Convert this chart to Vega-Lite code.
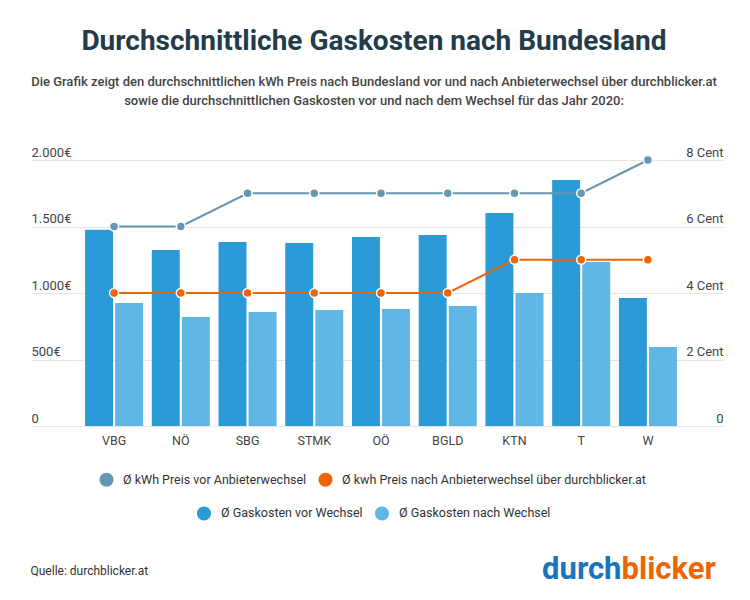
{
  "$schema": "https://vega.github.io/schema/vega-lite/v6.json",
  "width": 692,
  "height": 266,
  "autosize": {"type": "none"},
  "padding": {"left": 31, "top": 160, "right": 27, "bottom": 174},
  "background": "white",
  "config": {"font": "Roboto", "view": {"stroke": null}},
  "title": {
    "text": "Durchschnittliche Gaskosten nach Bundesland",
    "subtitle": [
      "Die Grafik zeigt den durchschnittlichen kWh Preis nach Bundesland vor und nach Anbieterwechsel über durchblicker.at",
      "sowie die durchschnittlichen Gaskosten vor und nach dem Wechsel für das Jahr 2020:"
    ],
    "anchor": "middle",
    "fontSize": 28,
    "fontWeight": "bold",
    "color": "#243b4a",
    "subtitleFontSize": 13,
    "subtitleFontWeight": 500,
    "subtitleColor": "#444444",
    "subtitleLineHeight": 19,
    "subtitlePadding": 20,
    "offset": 38,
    "dx": -3
  },
  "datasets": {
    "kosten": [
      {"Land": "VBG", "Serie": "Ø Gaskosten vor Wechsel", "Kosten": 1475},
      {"Land": "VBG", "Serie": "Ø Gaskosten nach Wechsel", "Kosten": 925},
      {"Land": "NÖ", "Serie": "Ø Gaskosten vor Wechsel", "Kosten": 1323},
      {"Land": "NÖ", "Serie": "Ø Gaskosten nach Wechsel", "Kosten": 820},
      {"Land": "SBG", "Serie": "Ø Gaskosten vor Wechsel", "Kosten": 1383},
      {"Land": "SBG", "Serie": "Ø Gaskosten nach Wechsel", "Kosten": 857},
      {"Land": "STMK", "Serie": "Ø Gaskosten vor Wechsel", "Kosten": 1376},
      {"Land": "STMK", "Serie": "Ø Gaskosten nach Wechsel", "Kosten": 872},
      {"Land": "OÖ", "Serie": "Ø Gaskosten vor Wechsel", "Kosten": 1421},
      {"Land": "OÖ", "Serie": "Ø Gaskosten nach Wechsel", "Kosten": 880},
      {"Land": "BGLD", "Serie": "Ø Gaskosten vor Wechsel", "Kosten": 1436},
      {"Land": "BGLD", "Serie": "Ø Gaskosten nach Wechsel", "Kosten": 902},
      {"Land": "KTN", "Serie": "Ø Gaskosten vor Wechsel", "Kosten": 1601},
      {"Land": "KTN", "Serie": "Ø Gaskosten nach Wechsel", "Kosten": 1000},
      {"Land": "T", "Serie": "Ø Gaskosten vor Wechsel", "Kosten": 1850},
      {"Land": "T", "Serie": "Ø Gaskosten nach Wechsel", "Kosten": 1233},
      {"Land": "W", "Serie": "Ø Gaskosten vor Wechsel", "Kosten": 962},
      {"Land": "W", "Serie": "Ø Gaskosten nach Wechsel", "Kosten": 594}
    ],
    "preis": [
      {"Land": "VBG", "Tarif": "Ø kWh Preis vor Anbieterwechsel", "Cent": 6},
      {"Land": "NÖ", "Tarif": "Ø kWh Preis vor Anbieterwechsel", "Cent": 6},
      {"Land": "SBG", "Tarif": "Ø kWh Preis vor Anbieterwechsel", "Cent": 7},
      {"Land": "STMK", "Tarif": "Ø kWh Preis vor Anbieterwechsel", "Cent": 7},
      {"Land": "OÖ", "Tarif": "Ø kWh Preis vor Anbieterwechsel", "Cent": 7},
      {"Land": "BGLD", "Tarif": "Ø kWh Preis vor Anbieterwechsel", "Cent": 7},
      {"Land": "KTN", "Tarif": "Ø kWh Preis vor Anbieterwechsel", "Cent": 7},
      {"Land": "T", "Tarif": "Ø kWh Preis vor Anbieterwechsel", "Cent": 7},
      {"Land": "W", "Tarif": "Ø kWh Preis vor Anbieterwechsel", "Cent": 8},
      {"Land": "VBG", "Tarif": "Ø kwh Preis nach Anbieterwechsel über durchblicker.at", "Cent": 4},
      {"Land": "NÖ", "Tarif": "Ø kwh Preis nach Anbieterwechsel über durchblicker.at", "Cent": 4},
      {"Land": "SBG", "Tarif": "Ø kwh Preis nach Anbieterwechsel über durchblicker.at", "Cent": 4},
      {"Land": "STMK", "Tarif": "Ø kwh Preis nach Anbieterwechsel über durchblicker.at", "Cent": 4},
      {"Land": "OÖ", "Tarif": "Ø kwh Preis nach Anbieterwechsel über durchblicker.at", "Cent": 4},
      {"Land": "BGLD", "Tarif": "Ø kwh Preis nach Anbieterwechsel über durchblicker.at", "Cent": 4},
      {"Land": "KTN", "Tarif": "Ø kwh Preis nach Anbieterwechsel über durchblicker.at", "Cent": 5},
      {"Land": "T", "Tarif": "Ø kwh Preis nach Anbieterwechsel über durchblicker.at", "Cent": 5},
      {"Land": "W", "Tarif": "Ø kwh Preis nach Anbieterwechsel über durchblicker.at", "Cent": 5}
    ]
  },
  "layer": [
    {
      "data": {"name": "kosten"},
      "mark": {"type": "bar"},
      "encoding": {
        "x": {
          "field": "Land",
          "type": "nominal",
          "scale": {
            "domain": ["VBG", "NÖ", "SBG", "STMK", "OÖ", "BGLD", "KTN", "T", "W"],
            "paddingInner": 0.13,
            "paddingOuter": 0.75,
            "align": 0.54
          },
          "axis": {
            "title": "Quelle: durchblicker.at",
            "titleX": -1,
            "titleY": 144,
            "titleAlign": "left",
            "titleAnchor": null,
            "titleBaseline": "middle",
            "titleFontSize": 12,
            "titleFontWeight": "normal",
            "titleColor": "#333333",
            "labelAngle": 0,
            "labelFontSize": 12.5,
            "labelColor": "#444444",
            "labelPadding": 8,
            "domain": false,
            "ticks": false
          }
        },
        "xOffset": {
          "field": "Serie",
          "type": "nominal",
          "scale": {
            "domain": ["Ø Gaskosten vor Wechsel", "Ø Gaskosten nach Wechsel"],
            "paddingInner": 0.07,
            "paddingOuter": 0
          }
        },
        "y": {
          "field": "Kosten",
          "type": "quantitative",
          "scale": {"domain": [0, 2000]},
          "axis": {
            "title": "durch",
            "titleX": 590,
            "titleY": 409,
            "titleAngle": 0,
            "titleAlign": "right",
            "titleAnchor": null,
            "titleBaseline": "middle",
            "titleFontSize": 31,
            "titleFontWeight": "bold",
            "titleColor": "#1a73bc",
            "values": [0, 500, 1000, 1500, 2000],
            "labelExpr": "datum.value == 0 ? '0' : replace(format(datum.value, ','), ',', '.') + '€'",
            "labelAlign": "left",
            "labelBaseline": "bottom",
            "labelPadding": 0,
            "labelOffset": -1,
            "tickSize": 0,
            "ticks": false,
            "domain": false,
            "grid": true,
            "gridColor": "#e5e5e5",
            "labelFontSize": 13,
            "labelColor": "#444444"
          }
        },
        "fill": {
          "field": "Serie",
          "type": "nominal",
          "scale": {
            "domain": ["Ø Gaskosten vor Wechsel", "Ø Gaskosten nach Wechsel"],
            "range": ["#2b9bd8", "#60b6e4"]
          },
          "legend": {
            "title": null,
            "orient": "none",
            "legendX": 165,
            "legendY": 345,
            "direction": "horizontal",
            "symbolType": "circle",
            "symbolSize": 200,
            "labelFontSize": 12.5,
            "labelColor": "#333333",
            "labelOffset": 9,
            "labelLimit": 0,
            "columnPadding": 11,
            "padding": 0
          }
        }
      }
    },
    {
      "data": {"name": "preis"},
      "encoding": {
        "x": {"field": "Land", "type": "nominal"},
        "y": {
          "field": "Cent",
          "type": "quantitative",
          "scale": {"domain": [0, 8]},
          "axis": {
            "orient": "right",
            "title": "blicker",
            "titleX": -102,
            "titleY": 409,
            "titleAngle": 0,
            "titleAlign": "left",
            "titleAnchor": null,
            "titleBaseline": "middle",
            "titleFontSize": 31,
            "titleFontWeight": "bold",
            "titleColor": "#ec6608",
            "values": [0, 2, 4, 6, 8],
            "labelExpr": "datum.value == 0 ? '0' : datum.value + ' Cent'",
            "labelAlign": "right",
            "labelBaseline": "bottom",
            "labelPadding": 0,
            "labelOffset": -1,
            "tickSize": 0,
            "ticks": false,
            "domain": false,
            "grid": false,
            "labelFontSize": 13,
            "labelColor": "#444444"
          }
        },
        "color": {
          "field": "Tarif",
          "type": "nominal",
          "scale": {
            "domain": ["Ø kWh Preis vor Anbieterwechsel", "Ø kwh Preis nach Anbieterwechsel über durchblicker.at"],
            "range": ["#6596b2", "#ec6608"]
          },
          "legend": {
            "title": null,
            "orient": "none",
            "legendX": 68,
            "legendY": 312,
            "direction": "horizontal",
            "symbolType": "circle",
            "symbolSize": 200,
            "symbolStrokeWidth": 0,
            "labelFontSize": 12.5,
            "labelColor": "#333333",
            "labelOffset": 9,
            "labelLimit": 0,
            "columnPadding": 11,
            "padding": 0
          }
        }
      },
      "layer": [
        {"mark": {"type": "line", "strokeWidth": 2}},
        {"mark": {"type": "point", "filled": true, "opacity": 1, "size": 80, "stroke": "white", "strokeWidth": 1.5}}
      ]
    }
  ],
  "resolve": {"scale": {"y": "independent"}}
}
